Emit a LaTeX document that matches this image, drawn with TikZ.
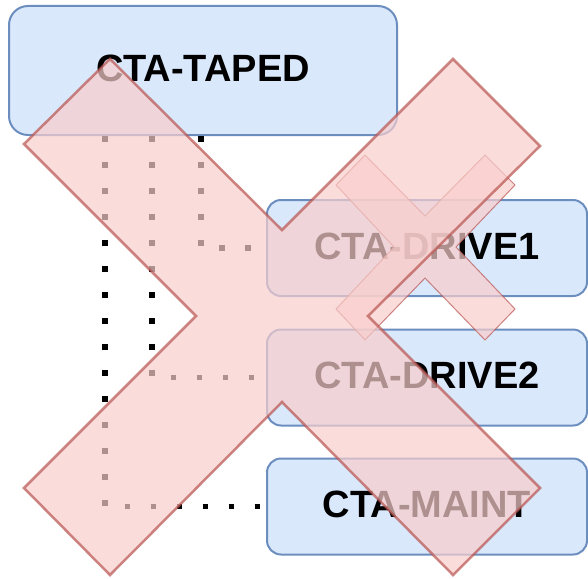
\documentclass[tikz,border=0pt]{standalone}
\usepackage{fontspec}
\setmainfont{Liberation Sans}
\definecolor{boxfill}{HTML}{DAE8FC}
\definecolor{boxline}{HTML}{6C8EBF}
\definecolor{xfill}{HTML}{F8CECC}
\definecolor{xline}{HTML}{B85450}
\begin{document}
\begin{tikzpicture}[x=1pt,y=-1pt,
  box/.style={draw=boxline,fill=boxfill,line width=2pt,rounded corners=14pt,
    minimum width=320pt,minimum height=96pt,inner sep=0pt,
    font=\fontsize{38}{44}\selectfont\bfseries},
  dotline/.style={line width=5.5pt,dash pattern=on 5.5pt off 20.5pt},
  crossbig/.style={fill=xfill,draw=xline,line width=2.5pt,opacity=0.7,line join=miter},
  crosssmall/.style={fill=xfill,draw=xline,line width=1pt,opacity=0.7,line join=miter}]
\useasboundingbox (0,0) rectangle (588,578);
\node[box,rounded corners=19pt,minimum width=388pt,minimum height=129pt] (taped) at (203,70.5) {\raisebox{4pt}{CTA-TAPED}};
\node[box] (drive1) at (427,248) {\raisebox{4pt}{CTA-DRIVE1}};
\node[box] (drive2) at (427,377.5) {\raisebox{4pt}{CTA-DRIVE2}};
\node[box] (maint) at (427,506.5) {\raisebox{4pt}{CTA-MAINT}};
\draw[dotline] ([xshift=97pt]taped.south west) |- (maint.west);
\draw[dotline] ([xshift=144pt]taped.south west) |- (drive2.west);
\draw[dotline] ([xshift=193pt]taped.south west) |- (drive1.west);
\path[crosssmall] (336,185) -- (365,155) -- (425,216) -- (485,155) -- (515,185) -- (456,247)
  -- (515,309) -- (485,340) -- (425,278) -- (365,340) -- (336,309) -- (394,247) -- cycle;
\path[crossbig] (24,144) -- (110,59) -- (282,230) -- (453,59) -- (540,146) -- (368,316)
  -- (540,488) -- (453,575) -- (282,402) -- (110,575) -- (24,488) -- (196,316) -- cycle;
\end{tikzpicture}
\end{document}
